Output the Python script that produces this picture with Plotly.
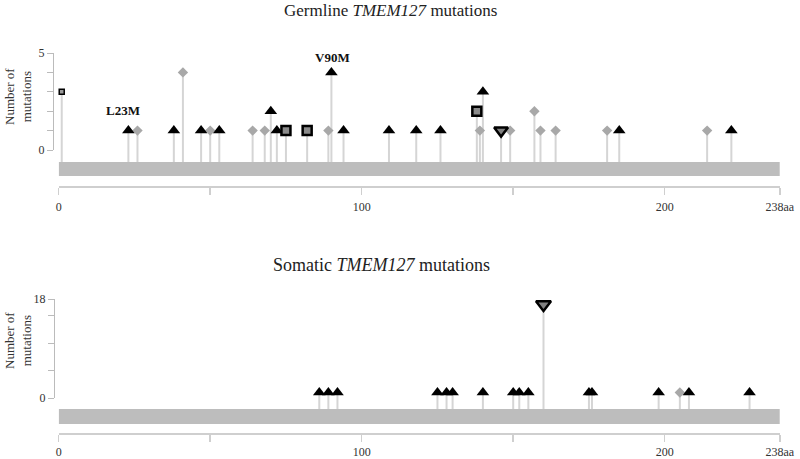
import plotly.graph_objects as go

W, H = 800, 459
PROTEIN_LENGTH = 238

# ---------------- Germline data ----------------
g_tri_pos = [23, 38, 47, 53, 70, 72, 90, 94, 109, 118, 126, 140, 185, 222]
g_tri_val = [1, 1, 1, 1, 2, 1, 4, 1, 1, 1, 1, 3, 1, 1]
g_dia_pos = [26, 41, 50, 64, 68, 89, 139, 149, 157, 159, 164, 181, 214]
g_dia_val = [1, 4, 1, 1, 1, 1, 1, 1, 2, 1, 1, 1, 1]
g_sq_pos = [75, 82, 138]
g_sq_val = [1, 1, 2]
g_start_pos = [1]
g_start_val = [3]
g_inv_pos = [146]
g_inv_val = [1]
g_label_text = ["L23M", "V90M"]
g_label_pos = [23, 90]
g_label_val = [1, 4]

# ---------------- Somatic data ----------------
s_tri_pos = [86, 89, 92, 125, 128, 130, 140, 150, 152, 155, 175, 176, 198, 208, 228]
s_tri_val = [1, 1, 1, 1, 1, 1, 1, 1, 1, 1, 1, 1, 1, 1, 1]
s_dia_pos = [205]
s_dia_val = [1]
s_inv_pos = [160]
s_inv_val = [17]

# ---------------- Ticks ----------------
x_tickvals = [0, 50, 100, 150, 200, 238]
x_ticktext = ["0", "", "100", "", "200", "238aa"]
g_y_tickvals = [0, 1, 2, 3, 4, 5]
g_y_ticktext = ["0", "", "", "", "", "5"]
s_y_tickvals = [0, 5, 10, 15, 18]
s_y_ticktext = ["0", "", "", "", "18"]

FONT = "Liberation Serif"
STEM = "#d5d5d5"
BAR = "#bdbdbd"
AXIS = "#cfcfcf"


def py(px):
    return 1 - px / H


def pxx(px):
    return px / W


x_dom = [pxx(58.7), pxx(58.7 + 238 * 3.03)]

# geometry (pixels) of each panel
G = dict(top=53, zero=150, bar_top=162, bar_bot=176, axis=187, yline=53, ymax=5)
S = dict(top=299, zero=398, bar_top=409, bar_bot=424, axis=434, yline=54, ymax=18)


def base_of(P):
    per = (P["zero"] - P["top"]) / P["ymax"]
    return -(P["bar_top"] - P["zero"]) / per


g_base = base_of(G)
s_base = base_of(S)

fig = go.Figure()


def stems(pos, val, base, yref):
    fig.add_trace(go.Scatter(
        x=pos, y=val, xaxis=yref[0], yaxis=yref[1], mode="markers",
        marker=dict(size=1, opacity=0),
        error_y=dict(type="data", symmetric=False,
                     array=[0] * len(val), arrayminus=[v - base for v in val],
                     width=0, thickness=2, color=STEM),
        showlegend=False, hoverinfo="skip"))


def markers(pos, val, axes, symbol, size, color, lw=0, lc="black"):
    fig.add_trace(go.Scatter(
        x=pos, y=val, xaxis=axes[0], yaxis=axes[1], mode="markers",
        marker=dict(symbol=symbol, size=size, color=color,
                    line=dict(width=lw, color=lc)),
        cliponaxis=False, showlegend=False, hoverinfo="skip"))


# Germline panel
gax = ("x", "y")
stems(g_start_pos + g_tri_pos + g_dia_pos + g_sq_pos + g_inv_pos,
      g_start_val + g_tri_val + g_dia_val + g_sq_val + g_inv_val, g_base, gax)
markers(g_dia_pos, g_dia_val, gax, "diamond", 8, "#a8a8a8")
markers(g_tri_pos, g_tri_val, gax, "triangle-up", 11, "black")
markers(g_sq_pos, g_sq_val, gax, "square", 9, "#8a8a8a", 2.5)
markers(g_start_pos, g_start_val, gax, "square", 5, "#9a9a9a", 1.5)
markers(g_inv_pos, g_inv_val, gax, "triangle-down", 12, "#808080", 2.5)

# Somatic panel
sax = ("x2", "y2")
stems(s_tri_pos + s_dia_pos + s_inv_pos, s_tri_val + s_dia_val + s_inv_val, s_base, sax)
markers(s_dia_pos, s_dia_val, sax, "diamond", 8, "#a8a8a8")
markers(s_tri_pos, s_tri_val, sax, "triangle-up", 11, "black")
markers(s_inv_pos, s_inv_val, sax, "triangle-down", 13, "#808080", 2.5)

# dummy traces so the visible value axes are drawn
fig.add_trace(go.Scatter(x=[None], y=[None], xaxis="x", yaxis="y3", showlegend=False, hoverinfo="skip"))
fig.add_trace(go.Scatter(x=[None], y=[None], xaxis="x2", yaxis="y4", showlegend=False, hoverinfo="skip"))

tickfont = dict(family=FONT, size=12, color="#333333")

xcommon = dict(range=[0, PROTEIN_LENGTH], domain=x_dom, showgrid=False, zeroline=False,
               showline=True, linecolor=AXIS, linewidth=2, ticks="outside", ticklen=7,
               tickcolor=AXIS, tickwidth=1.5, tickvals=x_tickvals, ticktext=x_ticktext,
               tickfont=tickfont, anchor="free", automargin=False)
hidden_y = dict(visible=False, showgrid=False, zeroline=False, fixedrange=True, automargin=False)
vis_y = dict(showgrid=False, zeroline=False, showline=True, linecolor="#bbbbbb", linewidth=1,
             ticks="outside", ticklen=6, tickcolor="#bbbbbb", tickwidth=1,
             tickfont=tickfont, anchor="free", automargin=False)

fig.update_layout(
    template="none",
    width=W, height=H, margin=dict(l=0, r=0, t=0, b=0, autoexpand=False),
    paper_bgcolor="white", plot_bgcolor="rgba(0,0,0,0)",
    xaxis=dict(**xcommon, position=py(G["axis"]), ticklabelstandoff=2),
    xaxis2=dict(**xcommon, position=py(S["axis"]), ticklabelstandoff=0),
    yaxis=dict(**hidden_y, range=[g_base, G["ymax"]], domain=[py(G["bar_top"]), py(G["top"])]),
    yaxis2=dict(**hidden_y, range=[s_base, S["ymax"]], domain=[py(S["bar_top"]), py(S["top"])]),
    yaxis3=dict(**vis_y, range=[0, G["ymax"]], domain=[py(G["zero"]), py(G["top"])],
                position=pxx(G["yline"]), tickvals=g_y_tickvals, ticktext=g_y_ticktext),
    yaxis4=dict(**vis_y, range=[0, S["ymax"]], domain=[py(S["zero"]), py(S["top"])],
                position=pxx(S["yline"]), tickvals=s_y_tickvals, ticktext=s_y_ticktext),
)

# protein bars
for P, xr in ((G, "x"), (S, "x2")):
    fig.add_shape(type="rect", xref=xr, yref="paper", x0=0, x1=PROTEIN_LENGTH,
                  y0=py(P["bar_bot"]), y1=py(P["bar_top"]), fillcolor=BAR, line=dict(width=0),
                  layer="below")

# titles
fig.add_annotation(text="Germline <i>TMEM127</i> mutations", xref="paper", yref="paper",
                   x=pxx(390), y=py(11), showarrow=False, xanchor="center", yanchor="middle",
                   font=dict(family=FONT, size=17, color="#222222"))
fig.add_annotation(text="Somatic <i>TMEM127</i> mutations", xref="paper", yref="paper",
                   x=pxx(381), y=py(265), showarrow=False, xanchor="center", yanchor="middle",
                   font=dict(family=FONT, size=18, color="#222222"))

# y titles
for yc in (97, 341):
    fig.add_annotation(text="Number of<br>mutations", xref="paper", yref="paper",
                       x=pxx(18), y=py(yc), showarrow=False, textangle=-90,
                       xanchor="center", yanchor="middle",
                       font=dict(family=FONT, size=13, color="#333333"))

# mutation labels
shifts = {"L23M": (-5, 20), "V90M": (1, 15)}
for t, p, v in zip(g_label_text, g_label_pos, g_label_val):
    dx, dy = shifts[t]
    fig.add_annotation(text="<b>%s</b>" % t, xref="x", yref="y", x=p, y=v,
                       xshift=dx, yshift=dy, showarrow=False, xanchor="center", yanchor="middle",
                       font=dict(family=FONT, size=13, color="#111111"))

fig.write_html("out.html", config={"displayModeBar": False, "staticPlot": True},
               post_script="document.body.style.margin='0';document.body.style.overflow='hidden';")
